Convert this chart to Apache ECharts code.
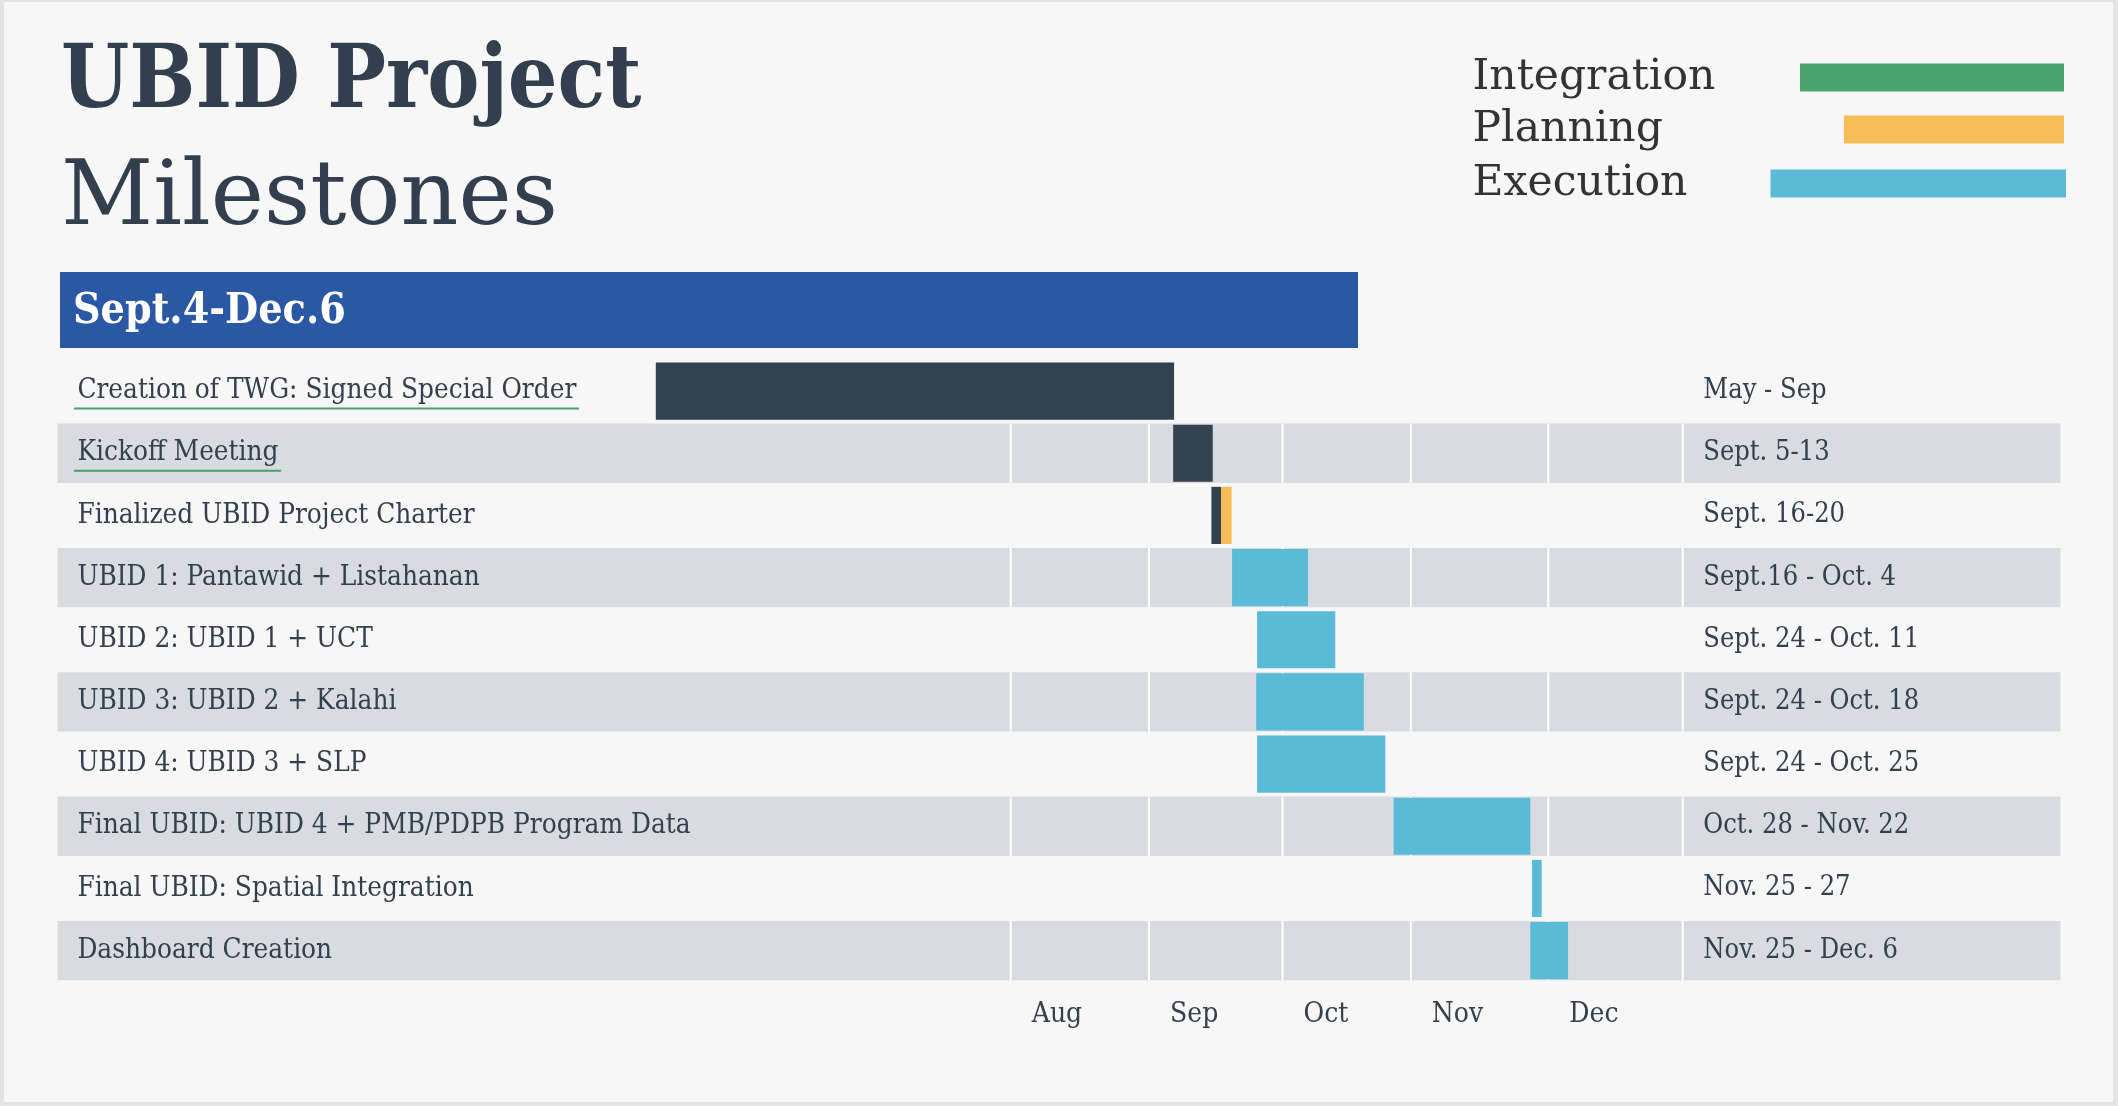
<!DOCTYPE html>
<html>
<head>
<meta charset="utf-8">
<script src="https://cdn.jsdelivr.net/npm/echarts@6/dist/echarts.min.js"></script>
<style>
html,body{margin:0;padding:0;width:2118px;height:1106px;background:#e4e4e4;overflow:hidden;}
#chart{position:absolute;left:4px;top:2px;width:2109px;height:1100px;}
</style>
</head>
<body>
<div id="chart"></div>
<script>
// ---------------- data ----------------
const categories = [
  'Creation of TWG: Signed Special Order',
  'Kickoff Meeting',
  'Finalized UBID Project Charter',
  'UBID 1: Pantawid + Listahanan',
  'UBID 2: UBID 1 + UCT',
  'UBID 3: UBID 2 + Kalahi',
  'UBID 4: UBID 3 + SLP',
  'Final UBID: UBID 4 + PMB/PDPB Program Data',
  'Final UBID: Spatial Integration',
  'Dashboard Creation'
];
const dateLabels = [
  'May - Sep', 'Sept. 5-13', 'Sept. 16-20', 'Sept.16 - Oct. 4', 'Sept. 24 - Oct. 11',
  'Sept. 24 - Oct. 18', 'Sept. 24 - Oct. 25', 'Oct. 28 - Nov. 22', 'Nov. 25 - 27', 'Nov. 25 - Dec. 6'
];
const underlinedRows = [0, 1];
const bandedRows = [1, 3, 5, 7, 9];
// positions on the timeline in day-of-year 2019 (Jan 1 = 0): [row, start, end]
const milestoneBars = [[0, 131.2, 249.2], [1, 249.0, 258.0], [2, 257.7, 259.9]];
const planningBars = [[2, 259.9, 262.3]];
const executionBars = [
  [3, 262.4, 279.7], [4, 268.1, 285.9], [5, 267.9, 292.4], [6, 268.1, 297.3],
  [7, 299.2, 330.3], [8, 330.7, 332.9], [9, 330.3, 338.9]
];
const integrationBars = [];
// month divider lines (Aug, Sep, Oct, Nov, Dec, Jan)
const monthLines = [212, 243.5, 273.9, 303.1, 334.4, 365];
const monthNames = ['Aug', 'Sep', 'Oct', 'Nov', 'Dec'];
const axisMin = -5, axisMax = 451;

// ---------------- style ----------------
const OX = 4, OY = 2;
const FONT = "'DejaVu Serif Condensed', 'DejaVu Serif', serif";
const FONT_WIDE = "'DejaVu Serif', serif";
const TEXT = '#34404f';
const LABEL_SIZE = 27.7;
const GRID_LEFT = 57.6 - OX;
const GRID_RIGHT = 2109 - (2060.4 - OX);
const GRID_TOP = 360 - OY;
const GRID_BOTTOM = 1100 - (981.7 - OY);

function measure(text, size, weight) {
  const c = document.createElement('canvas').getContext('2d');
  c.font = (weight || 'normal') + ' ' + size + 'px ' + FONT;
  return c.measureText(text).width;
}

function barRenderer(params, api) {
  const row = api.value(0);
  const s = api.coord([api.value(1), row]);
  const e = api.coord([api.value(2), row]);
  const h = api.size([0, 1])[1] * 0.92;
  return {
    type: 'rect',
    shape: { x: s[0], y: s[1] - h / 2, width: e[0] - s[0], height: h },
    style: { fill: api.visual('color') }
  };
}

const chart = echarts.init(document.getElementById('chart'));

const option = {
  backgroundColor: '#f7f7f7',
  animation: false,
  title: [
    { text: 'UBID Project', left: 61 - OX, top: 41 - OY, padding: 0,
      textStyle: { fontSize: 87, fontWeight: 'bold', color: '#333f4e', fontFamily: FONT, lineHeight: 87 } },
    { text: 'Milestones', left: 61 - OX, top: 156 - OY, padding: 0,
      textStyle: { fontSize: 90, fontWeight: 'normal', color: '#333f4e', fontFamily: FONT_WIDE, lineHeight: 90 } }
  ],
  legend: [
    { data: ['Integration'], itemWidth: 264, itemHeight: 28, W: 322.5, top: 56 },
    { data: ['Planning'], itemWidth: 220, itemHeight: 28, W: 366.5, top: 108 },
    { data: ['Execution'], itemWidth: 295.5, itemHeight: 28, W: 293, top: 162 }
  ].map(l => ({
    data: l.data,
    left: 1472.5 - OX,
    top: l.top - OY,
    padding: 0,
    align: 'right',
    icon: 'rect',
    itemWidth: l.itemWidth,
    itemHeight: l.itemHeight,
    selectedMode: false,
    itemStyle: { borderWidth: 0 },
    formatter: '{a|{name}}',
    textStyle: {
      rich: { a: { width: l.W, align: 'left', fontSize: 42.5, lineHeight: 28, color: '#333333', fontFamily: FONT_WIDE } }
    }
  })),
  grid: { left: GRID_LEFT, right: GRID_RIGHT, top: GRID_TOP, bottom: GRID_BOTTOM, containLabel: false },
  xAxis: {
    type: 'value', min: axisMin, max: axisMax,
    splitLine: { show: false }, axisLine: { show: false }, axisTick: { show: false },
    axisLabel: {
      customValues: monthLines.slice(0, monthNames.length),
      formatter: v => monthNames[monthLines.indexOf(v)] || '',
      align: 'left', padding: [0, 0, 0, 21], margin: 19,
      color: TEXT, fontSize: 28, lineHeight: 28, fontFamily: FONT
    }
  },
  yAxis: [
    {
      type: 'category', data: categories, inverse: true, z: 6,
      axisLine: { show: false }, axisTick: { show: false }, splitLine: { show: false },
      axisLabel: { inside: true, margin: 19.8, color: TEXT, fontSize: LABEL_SIZE, fontFamily: FONT }
    },
    {
      type: 'category', data: dateLabels, inverse: true, position: 'right', z: 6,
      axisLine: { show: false }, axisTick: { show: false }, splitLine: { show: false },
      axisLabel: { inside: true, margin: 2060.4 - 1703.3, align: 'left', color: TEXT, fontSize: 27, fontFamily: FONT }
    }
  ],
  graphic: [
    { type: 'rect', z: 10, shape: { x: 60 - OX, y: 272 - OY, width: 1298, height: 76 }, style: { fill: '#2a58a5' } },
    { type: 'text', z: 11, x: 73 - OX, y: 312 - OY,
      style: { text: 'Sept.4-Dec.6', fill: '#ffffff', font: 'bold 42.5px ' + FONT, verticalAlign: 'middle', align: 'left' } }
  ],
  series: [
    {
      type: 'custom', name: 'bands', z: 1, silent: true,
      data: bandedRows.map(r => [r]), encode: { y: 0 },
      renderItem: (params, api) => {
        const c = api.coord([axisMin, api.value(0)]);
        const h = api.size([0, 1])[1] * 0.955;
        return { type: 'rect', shape: { x: params.coordSys.x, y: c[1] - h / 2, width: params.coordSys.width, height: h },
                 style: { fill: '#d8dbdf' } };
      }
    },
    {
      type: 'custom', name: 'gridlines', z: 2, silent: true,
      data: monthLines.map(v => [v]), encode: { x: 0 },
      renderItem: (params, api) => {
        const h = api.size([0, 1])[1] * 0.955;
        return {
          type: 'group',
          children: bandedRows.map(r => {
            const c = api.coord([api.value(0), r]);
            return { type: 'rect', shape: { x: c[0] - 1, y: c[1] - h / 2, width: 2, height: h }, style: { fill: '#ffffff' } };
          })
        };
      }
    },
    { type: 'custom', name: 'Milestone', z: 3, color: '#34414f', data: milestoneBars, encode: { x: [1, 2], y: 0 }, renderItem: barRenderer },
    { type: 'custom', name: 'Planning', z: 3, color: '#f6bd56', data: planningBars, encode: { x: [1, 2], y: 0 }, renderItem: barRenderer },
    { type: 'custom', name: 'Execution', z: 3, color: '#5bbbd6', data: executionBars, encode: { x: [1, 2], y: 0 }, renderItem: barRenderer },
    { type: 'custom', name: 'Integration', z: 3, color: '#4aa36c', data: integrationBars, encode: { x: [1, 2], y: 0 }, renderItem: barRenderer },
    {
      type: 'custom', name: 'underlines', z: 7, silent: true,
      data: underlinedRows.map(r => [r]), encode: { y: 0 },
      renderItem: (params, api) => {
        const row = api.value(0);
        const c = api.coord([axisMin, row]);
        const w = measure(categories[row], LABEL_SIZE) + 6;
        return { type: 'rect', shape: { x: params.coordSys.x + 16.4, y: c[1] + 16.5, width: w, height: 2 },
                 style: { fill: '#4a9f6a' } };
      }
    }
  ]
};
chart.setOption(option);
</script>
</body>
</html>
